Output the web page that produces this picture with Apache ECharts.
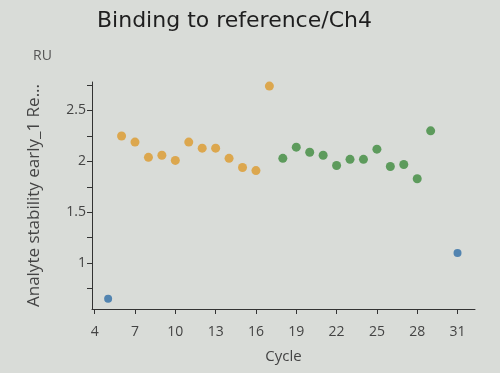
<!DOCTYPE html>
<html>
<head>
<meta charset="utf-8">
<script src="https://cdn.jsdelivr.net/npm/echarts@6/dist/echarts.min.js"></script>
<style>
html,body{margin:0;padding:0;background:#d9dcd8;}
#c{width:500px;height:373px;}
</style>
</head>
<body>
<div id="c"></div>
<script>
const titleText = 'Binding to reference/Ch4';
const yAxisTitle = 'Analyte stability early_1 Re...';
const yUnit = 'RU';
const xAxisTitle = 'Cycle';

const xTickValues = [4, 7, 10, 13, 16, 19, 22, 25, 28, 31];
const yLabelValues = [1, 1.5, 2, 2.5];
const yTickValues = [0.75, 1, 1.25, 1.5, 1.75, 2, 2.25, 2.5, 2.75];

const blueCycles = [5, 31];
const blueValues = [0.65, 1.1];

const orangeCycles = [6, 7, 8, 9, 10, 11, 12, 13, 14, 15, 16, 17];
const orangeValues = [2.25, 2.19, 2.04, 2.06, 2.01, 2.19, 2.13, 2.13, 2.03, 1.94, 1.91, 2.74];

const greenCycles = [18, 19, 20, 21, 22, 23, 24, 25, 26, 27, 28, 29];
const greenValues = [2.03, 2.14, 2.09, 2.06, 1.96, 2.02, 2.02, 2.12, 1.95, 1.97, 1.83, 2.30];

function pairs(xs, ys){ return xs.map((x,i)=>[x, ys[i]]); }

const chart = echarts.init(document.getElementById('c'), null, {renderer:'canvas'});
const textColor = '#444';
chart.setOption({
  backgroundColor: '#d9dcd8',
  animation: false,
  title: {
    text: titleText, left: 92, top: 5,
    textStyle: {fontFamily: 'DejaVu Sans', fontSize: 22, fontWeight: 'normal', color: '#1e1e1e'}
  },
  graphic: [{
    type: 'text', left: 33, top: 49,
    style: {text: yUnit, fontFamily: 'Open Sans', fontSize: 14, fill: '#555'}
  }],
  grid: {left: 92, right: 25, top: 82, bottom: 64, containLabel: false},
  xAxis: {
    type: 'value', min: 3.8, max: 32.3,
    name: xAxisTitle, nameLocation: 'middle', nameGap: 40,
    nameTextStyle: {fontFamily: 'Open Sans', fontSize: 15, color: '#444'},
    axisLine: {show: true, lineStyle: {color: '#333', width: 1}},
    axisTick: {show: true, customValues: xTickValues, length: 5, lineStyle: {color: '#333'}},
    axisLabel: {customValues: xTickValues, fontFamily: 'Open Sans', fontSize: 14, color: textColor, margin: 16},
    splitLine: {show: false}
  },
  yAxis: {
    type: 'value', min: 0.55, max: 2.78,
    name: yAxisTitle, nameLocation: 'middle', nameGap: 49, nameRotate: 90,
    nameTextStyle: {fontFamily: 'Open Sans', fontSize: 17, color: '#444'},
    axisLine: {show: true, lineStyle: {color: '#333', width: 1}},
    axisTick: {show: true, customValues: yTickValues, length: 5, lineStyle: {color: '#333'}},
    axisLabel: {customValues: yLabelValues, fontFamily: 'Open Sans', fontSize: 14, color: textColor, margin: 6},
    splitLine: {show: false}
  },
  series: [
    {type: 'scatter', data: pairs(blueCycles, blueValues), symbolSize: 8, itemStyle: {color: '#2f6ea6'}},
    {type: 'scatter', data: pairs(orangeCycles, orangeValues), symbolSize: 9, itemStyle: {color: '#dc9a2c'}},
    {type: 'scatter', data: pairs(greenCycles, greenValues), symbolSize: 9, itemStyle: {color: '#3d8b3d'}}
  ]
});
</script>
</body>
</html>
